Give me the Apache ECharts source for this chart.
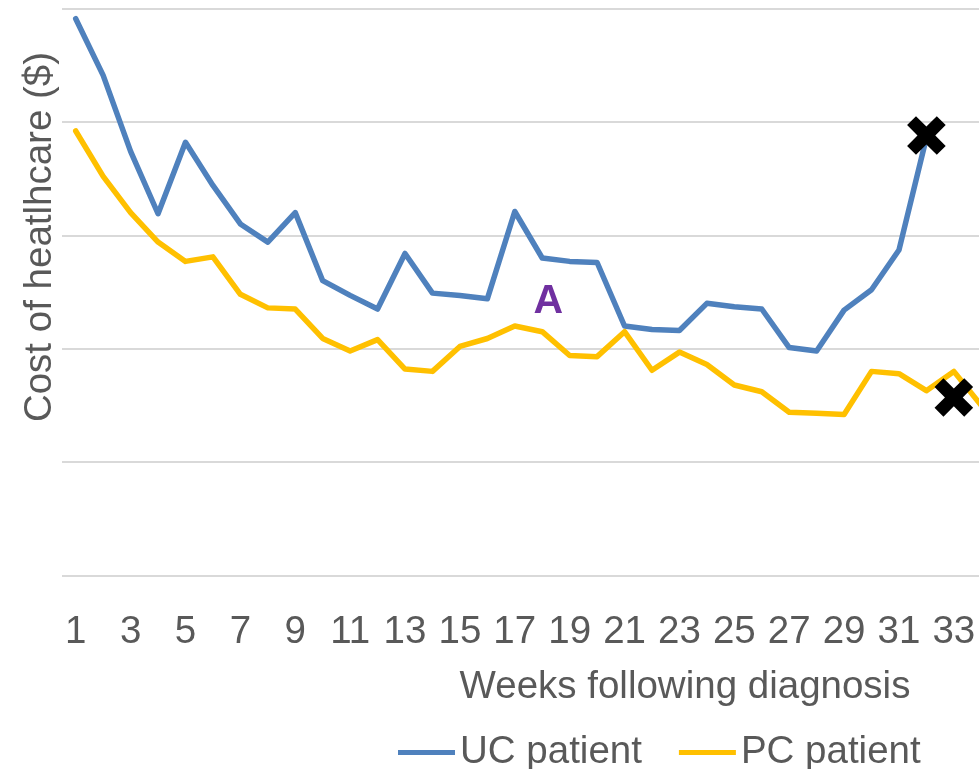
<!DOCTYPE html>
<html>
<head>
<meta charset="utf-8">
<script src="https://cdn.jsdelivr.net/npm/echarts@6/dist/echarts.min.js"></script>
<style>
  html, body { margin: 0; padding: 0; background: #fff; }
  #chart { width: 979px; height: 769px; }
</style>
</head>
<body>
<div id="chart"></div>
<script>
// Weeks following diagnosis
var weeks = ['1','2','3','4','5','6','7','8','9','10','11','12','13','14','15','16','17',
             '18','19','20','21','22','23','24','25','26','27','28','29','30','31','32','33','34'];

// Cost of healthcare (no scale shown in the original, arbitrary units)
var ucCost = [491,441,374,319,382,344,310,294,320,260,247,235,284,249,247,244,321,
              280,277,276,220,217,216,240,237,235,201,198,234,252,287,386,null,null];
var pcCost = [392,352,320,294,277,281,248,236,235,209,198,208,182,180,202,209,220,
              215,194,193,215,181,197,186,168,162,144,143,142,180,178,163,180,150];

// X markers (end points) and the "A" label
var ucMarker = ['32', 388];
var pcMarker = ['33', 157];
var labelA = ['18', 243];

var font = '"Liberation Sans", Arial, sans-serif';
var fontSize = 38.5;
var grey = '#595959';
// plus shape, rotated 45deg to make a bold X
var crossPath = 'path://M35,0H65V35H100V65H65V100H35V65H0V35H35Z';

var myChart = echarts.init(document.getElementById('chart'));

var option = {
  animation: false,
  textStyle: { fontFamily: font },
  grid: { left: 62, top: 8.5, width: 933, height: 567, outerBoundsMode: 'none', containLabel: false },
  legend: {
    data: ['UC patient', 'PC patient'],
    left: 393,
    top: 728,
    width: 700,
    icon: 'rect',
    itemWidth: 57,
    itemHeight: 5,
    itemGap: 37,
    textStyle: { fontSize: fontSize, color: grey, fontFamily: font }
  },
  xAxis: {
    type: 'category',
    data: weeks,
    axisLine: { show: false },
    axisTick: { show: false },
    axisLabel: { interval: 1, margin: 37, fontSize: fontSize, color: grey, fontFamily: font }
  },
  yAxis: {
    type: 'value',
    min: 0,
    max: 500,
    interval: 100,
    axisLabel: { show: false },
    axisLine: { show: false },
    axisTick: { show: false },
    splitLine: { lineStyle: { color: '#d9d9d9', width: 2 } }
  },
  graphic: [
    {
      type: 'text',
      x: 40, y: 237,
      rotation: Math.PI / 2,
      style: {
        text: 'Cost of heatlhcare ($)',
        font: fontSize + 'px ' + font,
        fill: grey,
        align: 'center',
        verticalAlign: 'middle'
      }
    },
    {
      type: 'text',
      x: 685, y: 687,
      style: {
        text: 'Weeks following diagnosis',
        font: fontSize + 'px ' + font,
        fill: grey,
        align: 'center',
        verticalAlign: 'middle'
      }
    }
  ],
  series: [
    {
      name: 'UC patient',
      type: 'line',
      data: ucCost,
      symbol: 'none',
      color: '#4f81bd',
      lineStyle: { width: 5.5, color: '#4f81bd', join: 'round', cap: 'round' },
      markPoint: {
        silent: true,
        data: [
          {
            coord: ucMarker,
            symbol: crossPath,
            symbolSize: 42,
            symbolRotate: 45,
            itemStyle: { color: '#000' },
            label: { show: false }
          },
          {
            coord: labelA,
            symbol: 'circle',
            symbolSize: 1,
            itemStyle: { color: 'rgba(0,0,0,0)' },
            label: {
              show: true,
              position: 'inside',
              offset: [6, 2],
              formatter: 'A',
              fontFamily: font,
              fontWeight: 'bold',
              fontSize: 41,
              color: '#7030a0'
            }
          }
        ]
      }
    },
    {
      name: 'PC patient',
      type: 'line',
      data: pcCost,
      symbol: 'none',
      color: '#ffc000',
      lineStyle: { width: 5.5, color: '#ffc000', join: 'round', cap: 'round' },
      markPoint: {
        silent: true,
        data: [
          {
            coord: pcMarker,
            symbol: crossPath,
            symbolSize: 42,
            symbolRotate: 45,
            itemStyle: { color: '#000' },
            label: { show: false }
          }
        ]
      }
    }
  ]
};
myChart.setOption(option);
</script>
</body>
</html>
